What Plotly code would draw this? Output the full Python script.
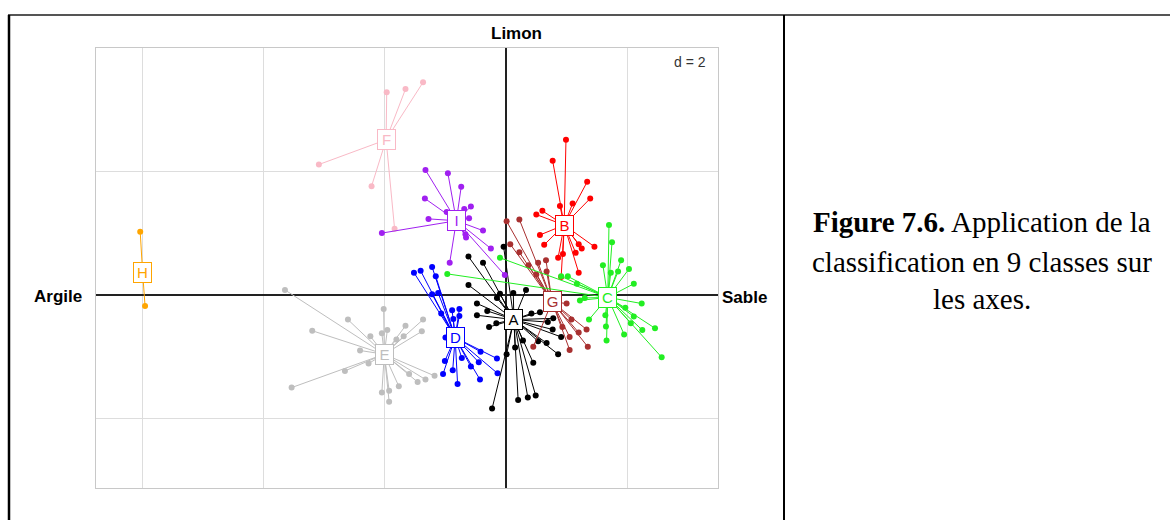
import plotly.graph_objects as go

# Class labels and colours (ade4 s.class palette)
classes = ['A', 'B', 'C', 'D', 'E', 'F', 'G', 'H', 'I']
class_colors = ['#000000', '#FF0000', '#22EE22', '#0000FF', '#BEBEBE',
                '#F9B9C6', '#A83030', '#FFA500', '#A020F0']

# Class centres (gravity centres)
center_x = [0.13, 0.96, 1.68, -0.84, -2.01, -1.98, 0.76, -6.0, -0.82]
center_y = [-0.40, 1.13, -0.04, -0.69, -0.96, 2.51, -0.11, 0.36, 1.20]

# Individual points of each class
A_x = [-0.62, -0.38, -0.04, -0.62, -0.48, -0.31, -0.48, -0.28, -0.16, -0.15, -0.10, 0.12, 0.33, 0.42, 0.77,
       0.78, 0.91, 0.86, 0.67, 0.53, 0.28, 0.15, 0.01, 0.45, 0.49, 0.36, 0.20, -0.23, 0.56, 0.69]
A_y = [0.62, 0.52, 0.78, 0.16, -0.14, -0.26, -0.33, -0.52, -0.46, -0.05, 0.02, 0.03, 0.08, -0.30, -0.56,
       -0.38, -0.68, -0.96, -0.78, -0.75, -0.74, -0.85, -0.96, -1.10, -1.63, -1.66, -1.70, -1.84, -0.28, -0.44]

B_x = [0.99, 0.77, 1.34, 1.39, 1.10, 0.89, 0.60, 0.50, 0.56, 0.63, 1.46, 1.25, 1.20, 1.15, 0.94, 0.86, 1.20, 0.91]
B_y = [2.51, 2.17, 1.83, 1.56, 1.48, 1.44, 1.36, 1.30, 0.97, 0.81, 0.78, 0.75, 0.82, 0.68, 0.66, 0.60, 0.36, 0.29]

C_x = [1.70, 1.75, 1.60, 1.90, 2.03, 1.85, 1.73, 2.11, 0.91, 1.02, 1.17, 1.22, 1.30, 1.37, 1.64, 1.65,
       1.66, 1.97, 2.11, 2.06, 1.95, 2.25, 2.46, 2.57, -0.97, -0.10, 2.24]
C_y = [1.13, 0.85, 0.48, 0.56, 0.42, 0.38, 0.36, 0.18, 0.30, 0.30, 0.18, -0.09, -0.05, -0.40, -0.33, -0.51,
       -0.74, -0.21, -0.35, -0.46, -0.64, -0.57, -0.54, -1.01, 0.34, 0.60, -0.14]

D_x = [-1.52, -1.41, -1.22, -1.16, -1.22, -1.12, -1.07, -0.89, -0.77, -0.87, -0.77, -1.00, -1.01, -1.04,
       -0.88, -0.80, -0.73, -0.58, -0.42, -0.45, -0.43, -0.15, -0.14]
D_y = [0.36, 0.39, 0.45, 0.30, 0.01, 0.03, -0.30, -0.25, -0.23, -0.39, -0.34, -0.69, -1.07, -1.28,
       -1.22, -1.44, -1.02, -1.16, -0.92, -1.09, -1.37, -1.03, -1.27]

E_x = [-3.65, -3.20, -2.61, -2.24, -2.41, -2.02, -2.05, -1.96, -1.66, -1.37, -1.39, -1.69, -1.81, -2.27,
       -2.66, -3.54, -2.05, -1.93, -1.93, -1.77, -1.60, -1.46, -1.33, -1.18]
E_y = [0.08, -0.58, -0.40, -0.67, -0.90, -0.23, -0.62, -0.57, -0.50, -0.40, -0.59, -0.67, -0.72, -1.11,
       -1.23, -1.50, -1.58, -1.55, -1.73, -1.48, -1.28, -1.41, -1.37, -1.31]

F_x = [-1.97, -1.66, -1.37, -3.09, -2.22, -1.84]
F_y = [3.28, 3.33, 3.44, 2.11, 1.76, 1.07]

G_x = [0.01, 0.22, 0.07, 0.22, 0.37, 0.53, 0.66, 0.50, 0.67, 1.00, 1.08, 0.93, 1.05, 1.20, 1.33, 1.35, 1.05, 0.45]
G_y = [1.19, 1.22, 0.82, 0.69, 0.48, 0.52, 0.56, 0.33, 0.38, -0.14, -0.40, -0.52, -0.68, -0.61, -0.56,
       -0.84, -0.89, -0.84]

H_x = [-6.04, -5.96]
H_y = [1.02, -0.18]

I_x = [-1.33, -0.96, -0.74, -1.34, -0.98, -0.69, -0.58, -0.61, -1.28, -0.38, -0.67, -0.66, -0.25, -0.93, -0.02, -2.05]
I_y = [2.02, 1.97, 1.75, 1.56, 1.34, 1.39, 1.43, 1.24, 1.23, 1.04, 0.98, 0.93, 0.75, 0.52, 0.32, 1.00]

points = {
    'A': (A_x, A_y), 'B': (B_x, B_y), 'C': (C_x, C_y), 'D': (D_x, D_y), 'E': (E_x, E_y),
    'F': (F_x, F_y), 'G': (G_x, G_y), 'H': (H_x, H_y), 'I': (I_x, I_y),
}

W, H = 1170, 520

fig = go.Figure()

draw_order = ['E', 'F', 'H', 'D', 'A', 'G', 'B', 'C', 'I']
for cls in draw_order:
    k = classes.index(cls)
    xs, ys = points[cls]
    cx, cy = center_x[k], center_y[k]
    col = class_colors[k]
    # star: lines from centre to every point
    sx, sy = [], []
    for x, y in zip(xs, ys):
        sx += [cx, x, None]
        sy += [cy, y, None]
    fig.add_trace(go.Scatter(x=sx, y=sy, mode='lines', line=dict(color=col, width=1),
                             hoverinfo='skip', showlegend=False))
    fig.add_trace(go.Scatter(x=xs, y=ys, mode='markers', marker=dict(color=col, size=6),
                             name=cls, showlegend=False))

# class label boxes
for k, cls in enumerate(classes):
    fig.add_annotation(x=center_x[k], y=center_y[k], xref='x', yref='y', text=cls, showarrow=False,
                       font=dict(family='Liberation Sans, Arial', size=15, color=class_colors[k]),
                       bgcolor='white', bordercolor=class_colors[k], borderwidth=1, borderpad=1,
                       width=15, height=17)


def page_text(px, py, text, font):
    # text placed at pixel position of the scanned page, centred
    fig.add_annotation(x=px / W, y=1 - py / H, xref='paper', yref='paper', text=text,
                       showarrow=False, xanchor='center', yanchor='middle', font=font)


# axis names
bold = dict(family='Liberation Sans, Arial', size=17, color='black')
page_text(58, 296, '<b>Argile</b>', bold)
page_text(744, 297, '<b>Sable</b>', bold)
page_text(516, 34, '<b>Limon</b>', bold)
page_text(690, 62, 'd = 2', dict(family='Liberation Sans, Arial', size=14, color='#333333'))

# caption on the right
caption = ['<b>Figure 7.6.</b> Application de la', 'classification en 9 classes sur', 'les axes.']
caption_y = [222, 262, 299]
for line, py in zip(caption, caption_y):
    page_text(982, py, line, dict(family='Liberation Serif, Times New Roman', size=29, color='black'))

# page frame of the scanned table
fig.add_shape(type='line', xref='paper', yref='paper', x0=8 / W, x1=1, y0=1 - 15 / H, y1=1 - 15 / H,
              line=dict(color='#555555', width=2))
fig.add_shape(type='line', xref='paper', yref='paper', x0=9 / W, x1=9 / W, y0=0, y1=1 - 15 / H,
              line=dict(color='black', width=2.5))
fig.add_shape(type='line', xref='paper', yref='paper', x0=784 / W, x1=784 / W, y0=0, y1=1 - 15 / H,
              line=dict(color='black', width=2))

axis_common = dict(showgrid=True, gridcolor='#DDDDDD', gridwidth=1, dtick=2, tick0=0,
                   showticklabels=False, ticks='', zeroline=True, zerolinecolor='#222222',
                   zerolinewidth=1.5, showline=True, linecolor='#C8C8C8', linewidth=1, mirror=True)

fig.update_layout(
    width=W, height=H,
    margin=dict(l=0, r=0, t=0, b=0),
    paper_bgcolor='white', plot_bgcolor='white',
    xaxis=dict(range=[-6.77, 3.50], domain=[96 / W, 718 / W], **axis_common),
    yaxis=dict(range=[-3.12, 4.00], domain=[1 - 487.7 / H, 1 - 47.7 / H], **axis_common),
    showlegend=False,
)

fig.write_html("out.html", config={'displayModeBar': False},
               post_script="document.body.style.margin='0px';")
